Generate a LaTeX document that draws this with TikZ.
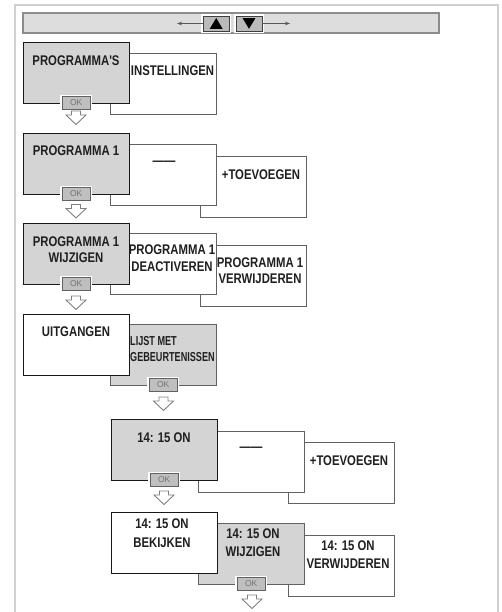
\documentclass[tikz,border=0pt]{standalone}
\usepackage{fontspec}
\setmainfont{Liberation Sans}
\newfontfamily\cond[FakeStretch=0.81]{Liberation Sans}
\newfontfamily\condn[FakeStretch=0.70]{Liberation Sans}
\usetikzlibrary{arrows.meta}
\definecolor{boxgray}{HTML}{D4D4D4}
\definecolor{bargray}{HTML}{DDDDDD}
\definecolor{framegray}{HTML}{D0D0D0}
\tikzset{
  boxbase/.style={minimum width=106.5pt, minimum height=61pt, anchor=north west, inner sep=0pt, outer sep=0pt},
  frontbox/.style={boxbase, draw=black!90, line width=0.9pt},
  backbox/.style={boxbase, draw=black!62, line width=0.8pt},
  lbl/.style={font=\cond\bfseries\fontsize{14}{15.5}\selectfont, align=center, inner sep=0pt, text=black!88},
  lbln/.style={font=\condn\bfseries\fontsize{13}{16}\selectfont, align=left, inner sep=0pt, text=black!88},
  okbtn/.style={draw=black!62, fill=black!25, line width=0.8pt, minimum width=28pt, minimum height=12.5pt, inner sep=0pt, font=\fontsize{8.5}{9}\selectfont, text=black!55, preaction={draw=white, line width=3.6pt}},
  navbtn/.style={draw=black!75, fill=black!27, line width=0.8pt, minimum width=26pt, minimum height=15pt, inner sep=0pt, preaction={draw=white, line width=3.6pt}},
  navarrow/.style={draw=black!65, line width=0.7pt, -{Stealth[length=5pt,width=3.5pt]}},
  darrow/.pic={\draw[draw=black!50, fill=white, line width=0.9pt, line join=miter] (-4.5,0) -- (4.5,0) -- (4.5,4) -- (10,4) -- (0,13.5) -- (-10,4) -- (-4.5,4) -- cycle;}
}
\begin{document}
\begin{tikzpicture}[x=1pt,y=-1pt]
\useasboundingbox (0,0) rectangle (501,612);
% outer frame
\draw[framegray, line width=2pt] (15,614) -- (15,5) -- (498,5) -- (498,614);
% top bar
\node[draw=black!45, fill=bargray, line width=1.3pt, anchor=north west, minimum width=416pt, minimum height=20pt, inner sep=0pt, outer sep=0pt] (bar) at (23,13) {};
\node[navbtn] (up) at (216,23.5) {};
\node[navbtn] (down) at (249,23.5) {};
\fill[black] (209.8,28.8) -- (222.6,28.8) -- (216.2,18) -- cycle;
\fill[black] (242.6,18.2) -- (255.4,18.2) -- (249,28.8) -- cycle;
\coordinate (lend) at (177,23.5);
\coordinate (rend) at (290,23.5);
\draw[navarrow] (up.west) -- (lend);
\draw[navarrow] (down.east) -- (rend);
% row 1
\node[backbox, fill=white] (r1b) at (110,53) {};
\node[frontbox, fill=boxgray] (r1a) at (23,42) {};
\node[lbl] (t1a) at (76,61) {PROGRAMMA'S};
\node[lbl] (t1b) at (172.5,70.5) {INSTELLINGEN};
\node[okbtn] (ok1) at (r1a.south) {OK};
\pic at (76,111) {darrow};
% row 2
\node[backbox, fill=white] (r2c) at (200,156) {};
\node[backbox, fill=white] (r2b) at (110,144) {};
\node[frontbox, fill=boxgray] (r2a) at (23,133) {};
\node[lbl] (t2a) at (76,151) {PROGRAMMA 1};
\node[lbl, anchor=base] (t2b) at (164,165.5) {——};
\node[lbl] (t2c) at (261,175) {+TOEVOEGEN};
\node[okbtn] (ok2) at (r2a.south) {OK};
\pic at (76,204.5) {darrow};
% row 3
\node[backbox, fill=white] (r3c) at (200,245) {};
\node[backbox, fill=white] (r3b) at (110,233) {};
\node[frontbox, fill=boxgray] (r3a) at (23,223) {};
\node[lbl] (t3a) at (76,249.5) {PROGRAMMA 1\\WIJZIGEN};
\node[lbl] (t3b) at (172,258.5) {PROGRAMMA 1\\[1.5pt]DEACTIVEREN};
\node[lbl] (t3c) at (260,270.5) {PROGRAMMA 1\\VERWIJDEREN};
\node[okbtn] (ok3) at (r3a.south) {OK};
\pic at (76,296) {darrow};
% row 4
\node[backbox, fill=boxgray] (r4b) at (110,324) {};
\node[frontbox, fill=white] (r4a) at (23,314) {};
\node[lbl] (t4a) at (76,332) {UITGANGEN};
\node[lbln, anchor=west] (t4b) at (130,349.5) {LIJST MET\\GEBEURTENISSEN};
\node[okbtn] (ok4) at (r4b.south) {OK};
\pic at (163.5,397) {darrow};
% row 5
\node[backbox, fill=white] (r5c) at (288,442) {};
\node[backbox, fill=white] (r5b) at (198,431) {};
\node[frontbox, fill=boxgray] (r5a) at (111,419) {};
\node[lbl] (t5a) at (164,438) {14: 15 ON};
\node[lbl, anchor=base] (t5b) at (251,451) {——};
\node[lbl] (t5c) at (349,460.5) {+TOEVOEGEN};
\node[okbtn] (ok5) at (r5a.south) {OK};
\pic at (164,491) {darrow};
% row 6
\node[backbox, fill=white] (r6c) at (288,535) {};
\node[backbox, fill=boxgray] (r6b) at (198,523) {};
\node[frontbox, fill=white] (r6a) at (111,512) {};
\node[lbl] (t6a) at (162,533) {14: 15 ON\\[3pt]BEKIJKEN};
\node[lbl] (t6b) at (253,543) {14: 15 ON\\[2.5pt]WIJZIGEN};
\node[lbl] (t6c) at (348,555) {14: 15 ON\\[2.5pt]VERWIJDEREN};
\node[okbtn] (ok6) at (r6b.south) {OK};
\pic at (252,595) {darrow};
\end{tikzpicture}
\end{document}
